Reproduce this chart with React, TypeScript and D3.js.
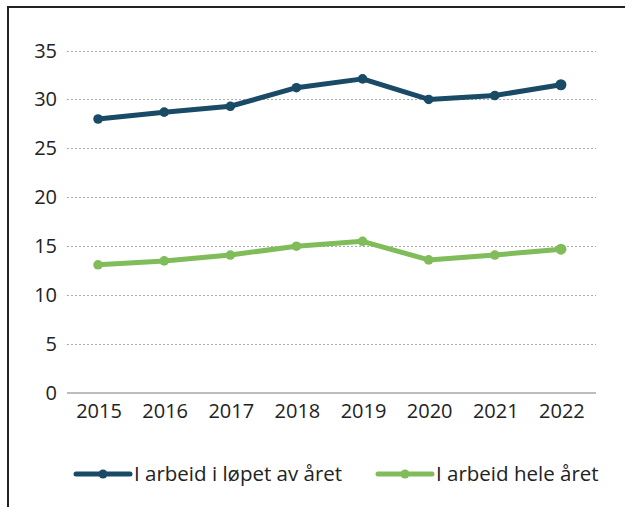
import React, { useEffect, useRef } from 'react';
import * as d3 from 'd3';

const years = ['2015', '2016', '2017', '2018', '2019', '2020', '2021', '2022'];
const iLopet = [28.0, 28.7, 29.3, 31.2, 32.1, 30.0, 30.4, 31.5];
const heleAret = [13.1, 13.5, 14.1, 15.0, 15.5, 13.6, 14.1, 14.7];
const yTicks = [0, 5, 10, 15, 20, 25, 30, 35];
const seriesNames = ['I arbeid i løpet av året', 'I arbeid hele året'];
const seriesColors = ['#194a66', '#80bc5a'];

const App = () => {
  const chartRef = useRef<SVGSVGElement>(null);

  useEffect(() => {
    const width = 625;
    const height = 507;
    const fontFamily = "'Open Sans', sans-serif";

    const svg = d3.select(chartRef.current)
      .attr('width', width)
      .attr('height', height);
    svg.selectAll('*').remove();

    svg.append('rect')
      .attr('width', width)
      .attr('height', height)
      .attr('fill', 'white');

    // frame, only top and left edges show in the picture
    svg.append('rect')
      .attr('x', 8)
      .attr('y', 7)
      .attr('width', 700)
      .attr('height', 600)
      .attr('fill', 'none')
      .attr('stroke', '#222')
      .attr('stroke-width', 2);

    const x = d3.scaleBand()
      .domain(years)
      .range([67, 596]);

    const y = d3.scaleLinear()
      .domain([0, 35])
      .range([393, 50.5]);

    const g = svg.append('g');

    // grid lines
    g.selectAll('line.grid')
      .data(yTicks.filter(d => d > 0))
      .enter()
      .append('line')
      .attr('class', 'grid')
      .attr('x1', 67)
      .attr('x2', 596)
      .attr('y1', d => Math.round(y(d)) + 0.5)
      .attr('y2', d => Math.round(y(d)) + 0.5)
      .attr('stroke', '#aaa')
      .attr('stroke-width', 1.2)
      .attr('stroke-dasharray', '2,2');

    // zero line
    g.append('line')
      .attr('x1', 67)
      .attr('x2', 596)
      .attr('y1', y(0))
      .attr('y2', y(0))
      .attr('stroke', '#bdbdbd')
      .attr('stroke-width', 2);

    g.selectAll('text.ytick')
      .data(yTicks)
      .enter()
      .append('text')
      .attr('class', 'ytick')
      .attr('x', 57)
      .attr('y', d => y(d))
      .attr('dy', '0.35em')
      .attr('text-anchor', 'end')
      .style('font-family', fontFamily)
      .style('font-size', '20px')
      .style('fill', '#222')
      .text(d => d);

    g.selectAll('text.xtick')
      .data(years)
      .enter()
      .append('text')
      .attr('class', 'xtick')
      .attr('x', d => (x(d) as number) + x.bandwidth() / 2 - 1)
      .attr('y', 418)
      .attr('text-anchor', 'middle')
      .style('font-family', fontFamily)
      .style('font-size', '20px')
      .style('fill', '#222')
      .text(d => d);

    const line = d3.line<number>()
      .x((_, i) => (x(years[i]) as number) + x.bandwidth() / 2 - 2)
      .y(d => y(d));

    [iLopet, heleAret].forEach((values, s) => {
      g.append('path')
        .datum(values)
        .attr('d', line)
        .attr('fill', 'none')
        .attr('stroke', seriesColors[s])
        .attr('stroke-width', 5)
        .attr('stroke-linejoin', 'round');

      g.selectAll(`circle.s${s}`)
        .data(values)
        .enter()
        .append('circle')
        .attr('class', `s${s}`)
        .attr('cx', (_, i) => (x(years[i]) as number) + x.bandwidth() / 2 - 2)
        .attr('cy', d => y(d))
        .attr('r', (_, i) => (i === values.length - 1 ? 5.5 : 4.8))
        .attr('fill', seriesColors[s]);
    });

    // legend
    const legendX = [76, 378];
    const legend = svg.selectAll('g.legend')
      .data(seriesNames)
      .enter()
      .append('g')
      .attr('class', 'legend')
      .attr('transform', (_, i) => `translate(${legendX[i]}, 474)`);

    legend.append('line')
      .attr('x1', 0)
      .attr('x2', 54)
      .attr('stroke', (_, i) => seriesColors[i])
      .attr('stroke-width', 5)
      .attr('stroke-linecap', 'round');

    legend.append('circle')
      .attr('cx', 27)
      .attr('r', 4.5)
      .attr('fill', (_, i) => seriesColors[i]);

    legend.append('text')
      .attr('x', 58)
      .attr('dy', '0.35em')
      .style('font-family', fontFamily)
      .style('font-size', '20.5px')
      .style('fill', '#222')
      .text(d => d);
  }, []);

  return (
    <div style={{ position: 'absolute', left: 0, top: 0 }}>
      <svg ref={chartRef} style={{ display: 'block' }}></svg>
    </div>
  );
};

export default App;
